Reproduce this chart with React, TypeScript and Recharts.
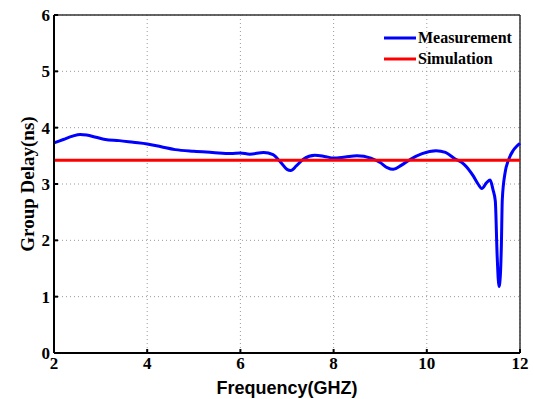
// Group delay vs frequency — measured vs simulated, MATLAB-style figure
import {
  LineChart, Line, XAxis, YAxis, CartesianGrid, Legend, ReferenceLine, Label,
} from 'recharts';

const FREQ = [
  2.0, 2.2, 2.4, 2.56, 2.7, 2.9, 3.1, 3.4, 3.7, 4.0, 4.3, 4.6, 5.0, 5.4, 5.8, 6.0, 6.2, 6.5, 6.7, 6.85,
  7.0, 7.08, 7.2, 7.35, 7.6, 7.8, 8.0, 8.25, 8.5, 8.8, 9.0, 9.15, 9.28, 9.45, 9.65, 9.9, 10.2, 10.4,
  10.6, 10.8, 11.0, 11.1, 11.18, 11.28, 11.36, 11.42, 11.47, 11.51, 11.55, 11.58, 11.6, 11.62, 11.68,
  11.75, 11.85, 11.93, 12.0,
];
const MEASURED = [
  3.73, 3.79, 3.85, 3.88, 3.87, 3.83, 3.79, 3.77, 3.74, 3.71, 3.66, 3.61, 3.58, 3.56, 3.54, 3.55, 3.53, 3.56, 3.52, 3.40,
  3.26, 3.24, 3.32, 3.44, 3.51, 3.49, 3.46, 3.48, 3.50, 3.46, 3.38, 3.29, 3.26, 3.33, 3.44, 3.54, 3.59, 3.56,
  3.45, 3.35, 3.14, 3.00, 2.92, 3.02, 3.07, 2.90, 2.70, 1.72, 1.18, 1.40, 1.90, 2.72, 3.20,
  3.42, 3.59, 3.67, 3.72,
];
const SIMULATED = 3.42;

const X_TICKS = [2, 4, 6, 8, 10, 12];
const Y_TICKS = [0, 1, 2, 3, 4, 5, 6];

const data = FREQ.map((f, i) => ({ f, meas: MEASURED[i], sim: SIMULATED }));

const SERIF = '"Liberation Serif", "Times New Roman", serif';
const SANS = '"Liberation Sans", Arial, sans-serif';
const TICK = { fill: '#000', fontSize: 17, fontWeight: 700, fontFamily: SERIF };

function LegendBox({ payload }: { payload?: Array<{ value: string; color?: string }> }) {
  if (!payload) return null;
  return (
    <div style={{ fontFamily: SERIF, fontWeight: 700, fontSize: 16, color: '#000' }}>
      {payload.map((p) => (
        <div key={p.value} style={{ display: 'flex', alignItems: 'center', height: 21 }}>
          <svg width={32} height={6} style={{ marginRight: 2 }}>
            <line x1={0} y1={3} x2={32} y2={3} stroke={p.color} strokeWidth={3} />
          </svg>
          <span>{p.value}</span>
        </div>
      ))}
    </div>
  );
}

export default function App() {
  return (
    <div style={{ width: 534, height: 399, background: '#fff' }}>
      <style>{'body{margin:0}'}</style>
      <LineChart width={534} height={399} data={data} margin={{ top: 15, right: 14, left: 10, bottom: 1 }}>
        <CartesianGrid stroke="#9a9a9a" strokeDasharray="1 3" />
        <XAxis
          dataKey="f" type="number" domain={[2, 12]} ticks={X_TICKS} height={45}
          tick={TICK} stroke="#000" strokeWidth={2} tickSize={-4} tickMargin={8}
        >
          <Label value="Frequency(GHZ)" position="insideBottom" offset={4}
            style={{ fontFamily: SANS, fontWeight: 700, fontSize: 18, fill: '#000' }} />
        </XAxis>
        <YAxis
          type="number" domain={[0, 6]} ticks={Y_TICKS} width={44}
          tick={TICK} stroke="#000" strokeWidth={2} tickSize={-4} tickMargin={8}
        >
          <Label value="Group Delay(ns)" angle={-90} position="insideLeft" offset={17}
            style={{ textAnchor: 'middle', fontFamily: SERIF, fontWeight: 700, fontSize: 19, fill: '#000' }} />
        </YAxis>
        <ReferenceLine y={6} stroke="#333" strokeWidth={1.5} />
        <ReferenceLine x={12} stroke="#333" strokeWidth={1.5} />
        <Legend
          layout="vertical" align="center" verticalAlign="middle" content={<LegendBox />}
          wrapperStyle={{ top: 27, left: 384, width: 140 }}
        />
        <Line dataKey="meas" name="Measurement" type="monotone" stroke="#0000ff" strokeWidth={3} dot={false} isAnimationActive={false} />
        <Line dataKey="sim" name="Simulation" type="linear" stroke="#ff0000" strokeWidth={3} dot={false} isAnimationActive={false} />
      </LineChart>
    </div>
  );
}
